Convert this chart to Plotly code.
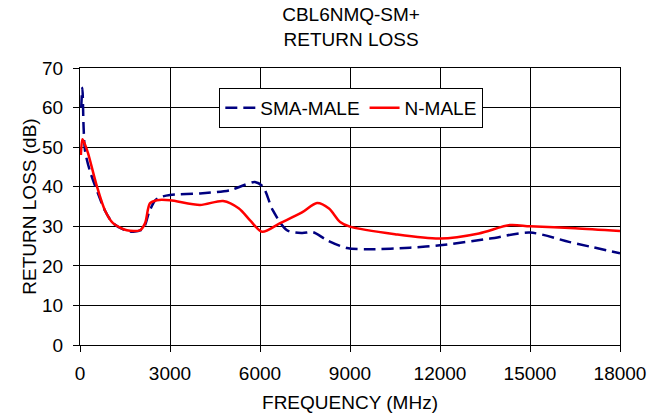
import plotly.graph_objects as go

sma_freq = [40, 80, 120, 170, 330, 600, 830, 1100, 1500, 1780, 2100, 2300, 2500, 2700, 3000, 4000, 5000, 5500, 5830, 6100, 6430, 6900, 7400, 7770, 8230, 8900, 9670, 11000, 12000, 13670, 15000, 16330, 18000]
sma_rl = [60, 65, 55, 49, 44, 38.3, 34, 30.8, 29, 28.6, 29.3, 33.5, 36.5, 37.4, 37.9, 38.3, 39.1, 40.5, 41.2, 40, 34, 29, 28.3, 28.5, 26.5, 24.5, 24.2, 24.6, 25.2, 26.9, 28.4, 26, 23.2]

n_freq = [30, 80, 150, 267, 567, 833, 1100, 1560, 2000, 2170, 2330, 2560, 3000, 4000, 4770, 5300, 5670, 6070, 6670, 7400, 7900, 8300, 8670, 9000, 10500, 12000, 13300, 14330, 15000, 16500, 18000]
n_rl = [48, 52, 51, 48.5, 40, 34, 30.8, 29, 29, 30.8, 35.8, 36.6, 36.6, 35.4, 36.4, 34.5, 31.5, 28.6, 30.8, 33.5, 35.9, 34.5, 31.1, 29.9, 28, 26.9, 28.2, 30.3, 30, 29.5, 28.8]

x_tick_step = 3000
y_tick_step = 10

font = "Liberation Sans, Arial, sans-serif"

fig = go.Figure()
fig.add_trace(go.Scatter(x=sma_freq, y=sma_rl, mode="lines", name="SMA-MALE",
                         line=dict(color="#000080", width=2.5, dash="12px,6px", shape="spline", smoothing=0.8)))
fig.add_trace(go.Scatter(x=n_freq, y=n_rl, mode="lines", name="N-MALE",
                         line=dict(color="#ff0000", width=2.5, shape="spline", smoothing=0.8)))

fig.update_layout(
    template="none",
    width=656, height=412,
    margin=dict(l=72, r=44, t=60, b=75, pad=0),
    paper_bgcolor="white", plot_bgcolor="white",
    font=dict(family=font, size=19, color="black"),
    title=dict(text="CBL6NMQ-SM+<br>RETURN LOSS", x=0.523, xanchor="center", y=0.968, yanchor="top",
               font=dict(family=font, size=19, color="black")),
    showlegend=True,
    legend=dict(orientation="h", x=0.258, xanchor="left", y=0.928, yanchor="top",
                bgcolor="white", bordercolor="black", borderwidth=1,
                font=dict(family=font, size=19, color="black"),
                tracegroupgap=0),
)
fig.update_xaxes(range=[0, 18000], tickmode="linear", tick0=0, dtick=x_tick_step, tickformat="d",
                 showgrid=True, gridcolor="#000000", gridwidth=1,
                 showline=True, linecolor="#000000", linewidth=1, mirror=True,
                 ticks="outside", ticklen=6, tickcolor="#000000", zeroline=False,
                 ticklabelstandoff=5,
                 title=dict(text="FREQUENCY (MHz)", standoff=12, font=dict(family=font, size=19)),
                 tickfont=dict(family=font, size=19))
fig.update_yaxes(range=[0, 70], tickmode="linear", tick0=0, dtick=y_tick_step, tickformat="d",
                 showgrid=True, gridcolor="#000000", gridwidth=1,
                 showline=True, linecolor="#000000", linewidth=1, mirror=True,
                 ticks="outside", ticklen=6, tickcolor="#000000", zeroline=False,
                 ticklabelstandoff=6,
                 title=dict(text="RETURN LOSS (dB)", standoff=0, font=dict(family=font, size=19)),
                 tickfont=dict(family=font, size=19))

fig.write_html("out.html")
